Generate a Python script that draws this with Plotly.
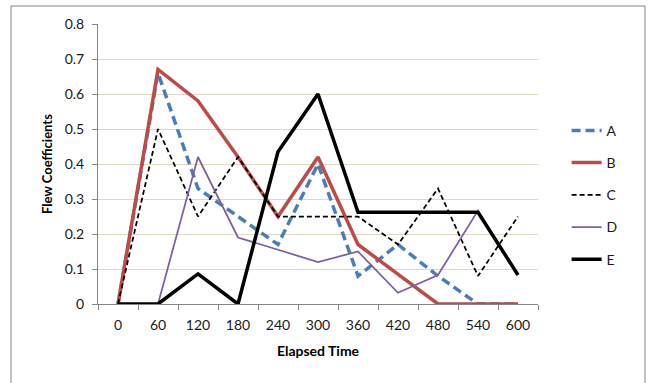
import plotly.graph_objects as go

times = ["0", "60", "120", "180", "240", "300", "360", "420", "480", "540", "600"]
series_names = ["A", "B", "C", "D", "E"]
A = [0, 0.66, 0.33, 0.25, 0.17, 0.40, 0.08, 0.17, 0.08, 0, 0]
B = [0, 0.67, 0.58, 0.42, 0.25, 0.42, 0.17, 0.085, 0, 0, 0]
C = [0, 0.50, 0.25, 0.42, 0.25, 0.25, 0.25, 0.17, 0.33, 0.08, 0.25]
D = [0, 0, 0.42, 0.19, 0.155, 0.12, 0.15, 0.032, 0.083, 0.267, 0.083]
E = [0, 0, 0.086, 0, 0.435, 0.60, 0.262, 0.262, 0.262, 0.262, 0.083]
y_ticks = [0, 0.1, 0.2, 0.3, 0.4, 0.5, 0.6, 0.7, 0.8]

styles = {
    "A": dict(color="#4A7EBB", width=3.5, dash="9px,5px"),
    "B": dict(color="#BE4B48", width=3.5, dash="solid"),
    "C": dict(color="#000000", width=1.75, dash="5px,3px"),
    "D": dict(color="#7D60A0", width=1.75, dash="solid"),
    "E": dict(color="#000000", width=3.5, dash="solid"),
}

fig = go.Figure()
for name, vals in zip(series_names, [A, B, C, D, E]):
    st = styles[name]
    fig.add_trace(go.Scatter(
        x=times, y=vals, mode="lines", name=name, legendgroup=name,
        line=dict(color=st["color"], width=st["width"], dash=st["dash"]),
    ))

font_family = "Lato, 'Open Sans', sans-serif"

fig.update_layout(
    width=652, height=383,
    margin=dict(l=98, r=114, t=24, b=79),
    paper_bgcolor="white", plot_bgcolor="white",
    showlegend=True,
    legend=dict(x=1.065, xanchor="left", y=0.39, yanchor="middle",
                font=dict(family=font_family, size=14, color="#1a1a1a"),
                tracegroupgap=11, bgcolor="rgba(0,0,0,0)"),
    font=dict(family=font_family, size=14, color="#1a1a1a"),
    xaxis=dict(
        type="category", tickson="boundaries", ticks="outside", ticklen=5,
        range=[-0.5, len(times) - 0.5],
        tickcolor="#868686", showline=True, linecolor="#868686", linewidth=1,
        showgrid=False, tickfont=dict(size=14), ticklabelstandoff=8,
        title=dict(text="<b>Elapsed Time</b>", font=dict(size=14, color="#000000"), standoff=14),
    ),
    yaxis=dict(
        range=[0, 0.8], tickvals=y_ticks, ticktext=[str(v) for v in y_ticks],
        ticks="outside", ticklen=5, tickcolor="#868686",
        showline=True, linecolor="#868686", linewidth=1,
        showgrid=True, gridcolor="#DDD9C3", gridwidth=1, zeroline=False,
        tickfont=dict(size=14), ticklabelstandoff=5,
        title=dict(text="<b>Flew Coefficients</b>", font=dict(size=13, color="#000000"), standoff=9),
    ),
    shapes=[dict(type="rect", xref="paper", yref="paper",
                 x0=(11 - 98) / 440, x1=(645 - 98) / 440,
                 y0=(304 - 395) / 280, y1=(304 - 6) / 280,
                 line=dict(color="#868686", width=1), layer="below")],
)

fig.write_html("out.html")
